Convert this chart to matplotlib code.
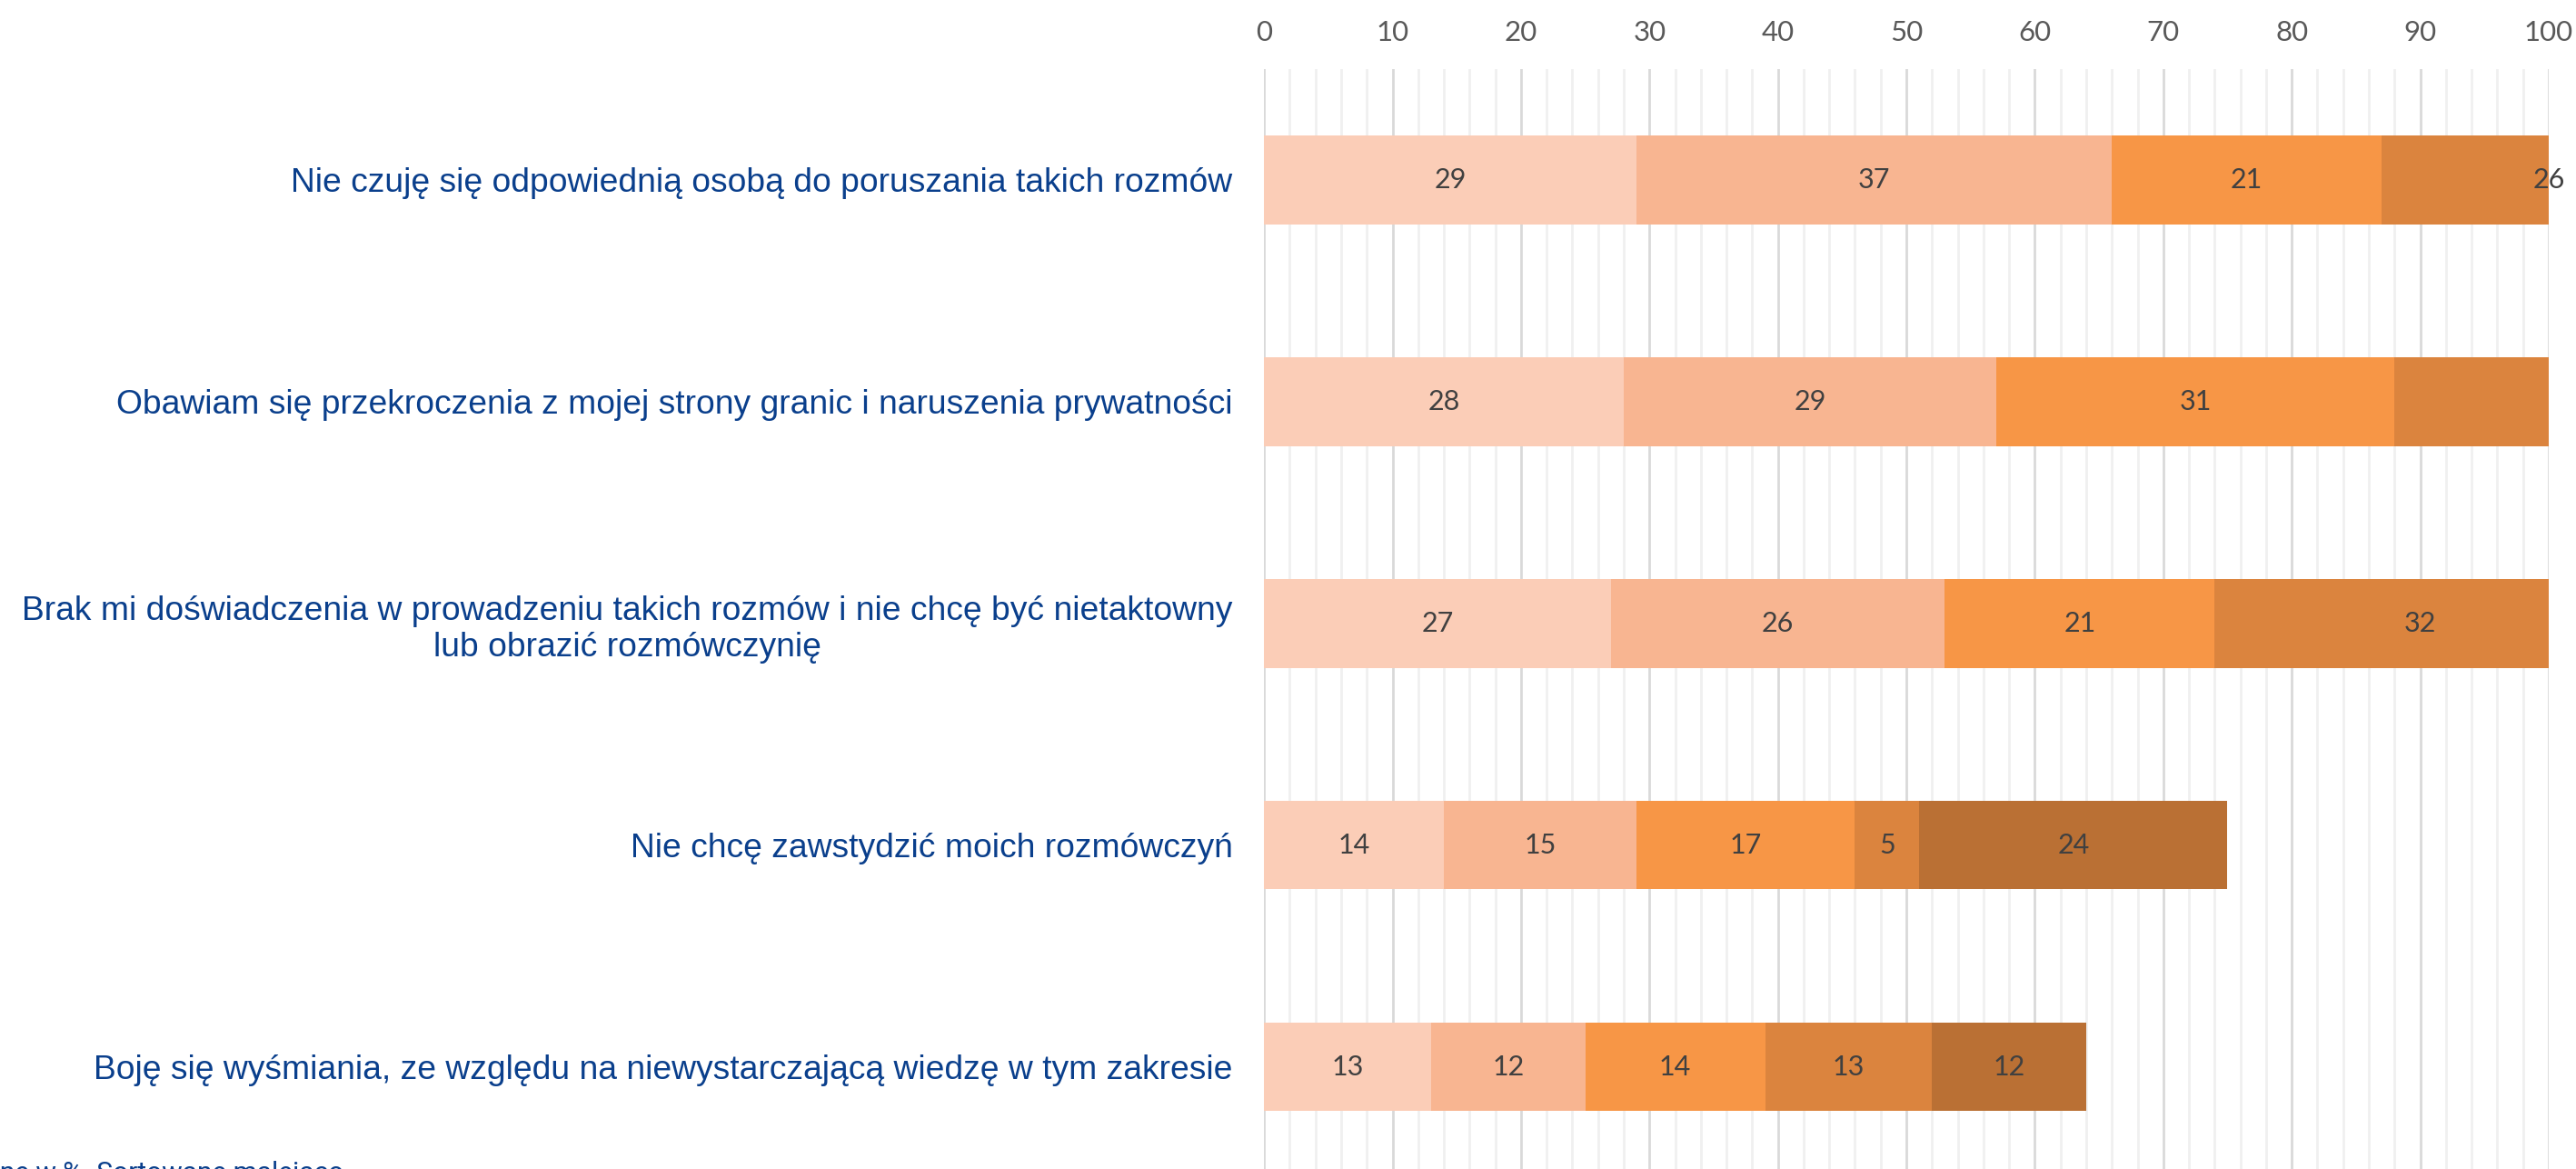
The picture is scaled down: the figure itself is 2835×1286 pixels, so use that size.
import matplotlib.pyplot as plt
from matplotlib.ticker import MultipleLocator
import numpy as np

# data (values in %), top to bottom
categories = [
    "Nie czuję się odpowiednią osobą do poruszania takich rozmów",
    "Obawiam się przekroczenia z mojej strony granic i naruszenia prywatności",
    "Brak mi doświadczenia w prowadzeniu takich rozmów i nie chcę być nietaktowny\nlub obrazić rozmówczynię",
    "Nie chcę zawstydzić moich rozmówczyń",
    "Boję się wyśmiania, ze względu na niewystarczającą wiedzę w tym zakresie",
]
s1 = [29, 28, 27, 14, 13]
s2 = [37, 29, 26, 15, 12]
s3 = [21, 31, 21, 17, 14]
s4 = [26, 26, 32, 5, 13]
s5 = [0, 0, 0, 24, 12]
series = [s1, s2, s3, s4, s5]
colors = ["#FBCDB7", "#F8B591", "#F79646", "#DB843E", "#BA7034"]
note = "Dane w %. Sortowane malejąco"

fig = plt.figure(figsize=(28.35, 12.86), dpi=100)
ax = fig.add_axes([0.4907, -0.0074, 0.4987, 0.9483])

y = np.arange(len(categories))
left = np.zeros(len(categories))
for vals, col in zip(series, colors):
    vals = np.array(vals, dtype=float)
    ax.barh(y, vals, left=left, height=0.4, color=col, edgecolor='none', zorder=2)
    for yi, (l, v) in enumerate(zip(left, vals)):
        c = l + v / 2
        # labels whose centre falls past the axis end are not shown
        if v > 0 and c <= 100.5:
            ax.text(c, yi, "{:d}".format(int(v)), ha='center', va='center',
                    fontsize=22, family='Lato', color='#404040', zorder=3)
    left += vals

ax.set_xlim(0, 100)
ax.set_ylim(4.5, -0.5)
ax.xaxis.set_major_locator(MultipleLocator(10))
ax.xaxis.set_minor_locator(MultipleLocator(2))
ax.xaxis.tick_top()
ax.grid(axis='x', which='major', color='#D9D9D9', linewidth=2, zorder=0)
ax.grid(axis='x', which='minor', color='#F0F0F0', linewidth=2, zorder=0)
ax.set_axisbelow(True)
ax.tick_params(axis='x', which='both', length=0, pad=19, labelsize=22.5,
               labelcolor='#595959')
for lbl in ax.get_xticklabels():
    lbl.set_family('Lato')
ax.set_yticks(y)
ax.set_yticklabels(categories, fontsize=26.8, family='Liberation Sans',
                   color='#0A3F8C', multialignment='center')
ax.tick_params(axis='y', length=0, pad=25)
for sp in ax.spines.values():
    sp.set_visible(False)

fig.text(-0.0127, 0.007, note, ha='left', va='top', fontsize=21.5,
         family='Roboto', color='#0A3F8C')

fig.savefig('out.png', dpi=100)
